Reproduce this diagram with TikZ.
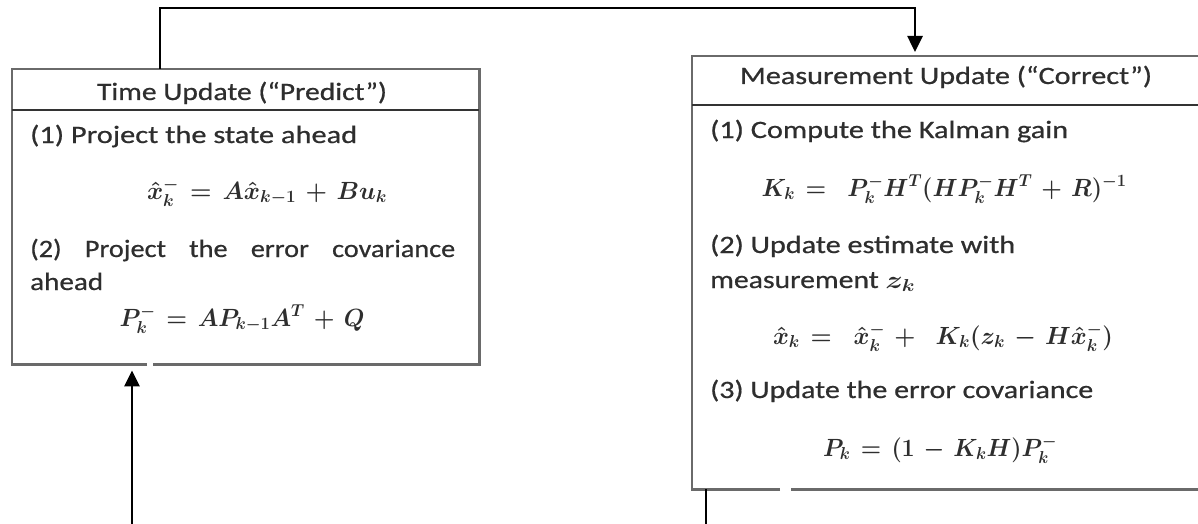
\documentclass[tikz,border=0pt]{standalone}
\usepackage{graphicx}
\usepackage{fontspec}
\setmainfont[FakeBold=0.6]{Carlito}
\usetikzlibrary{arrows.meta}
\definecolor{boxgray}{HTML}{6A6A6A}
\definecolor{sepgray}{HTML}{333333}
\definecolor{txtgray}{HTML}{2E2E2E}
\newcommand{\fitw}[2]{\sbox0{#2}\scalebox{\fpeval{#1pt/\wd0}}[1]{\usebox0}}
\newcommand{\sx}[1]{\scalebox{1.13}[1]{#1}}
\newcommand{\eqfont}{\fontsize{24}{28}\selectfont\boldmath\thickmuskip=7mu\medmuskip=6mu}
\begin{document}
\begin{tikzpicture}[x=1pt,y=-1pt,
  boxline/.style={draw=boxgray,line width=2.2pt},
  sepline/.style={draw=sepgray,line width=2.6pt},
  conn/.style={draw=black,line width=2.6pt},
  arrowline/.style={conn,-{Triangle[width=15pt,length=16pt]}},
  txt/.style={inner sep=0pt,text=txtgray,font=\fontsize{25}{29}\selectfont},
  eq/.style={inner sep=0pt,text=txtgray,font=\eqfont}
]
\useasboundingbox (0,0) rectangle (1198,524);
% boxes
\node[inner sep=0pt,anchor=north west,minimum width=467pt,minimum height=295pt] (tu) at (12,69) {};
\node[inner sep=0pt,anchor=north west,minimum width=520pt,minimum height=433pt] (mu) at (692,56) {};
\draw[boxline] ([xshift=135pt]tu.south west) -- (tu.south west) -- (tu.north west) -- (tu.north east) -- (tu.south east) -- ([xshift=141pt]tu.south west);
\draw[sepline] ([yshift=-41pt]tu.north west) -- ([yshift=-41pt]tu.north east);
\draw[boxline] ([xshift=88pt]mu.south west) -- (mu.south west) -- (mu.north west) -- (mu.north east);
\draw[boxline] ([xshift=99pt]mu.south west) -- (mu.south east);
\draw[sepline] ([yshift=-49pt]mu.north west) -- ([yshift=-49pt]mu.north east);
% left texts
\node[txt,anchor=base] (th) at (242,100) {\fitw{290}{Time Update (“Predict”)}};
\node[txt,anchor=base west] (t1) at (30,143) {\fitw{327}{(1) Project the state ahead}};
\node[eq,anchor=base] (te1) at (267,199) {\fitw{240}{$\hat{x}_k^- = A\hat{x}_{k-1} + Bu_k$}};
\node[txt,anchor=base west] (t2) at (30,257) {\makebox[425pt][s]{\sx{(2)}\hfill \sx{Project}\hfill \sx{the}\hfill \sx{error}\hfill \sx{covariance}}};
\node[txt,anchor=base west] (t2b) at (30,290) {\fitw{73}{ahead}};
\node[eq,anchor=base] (te2) at (242,326) {\fitw{245}{$P_k^- = AP_{k-1}A^T + Q$}};
% right texts
\node[txt,anchor=base] (mh) at (946,84) {\fitw{412}{Measurement Update (“Correct”)}};
\node[txt,anchor=base west] (m1) at (710,138) {\fitw{358}{(1) Compute the Kalman gain}};
\node[eq,anchor=base] (me1) at (944,196) {\fitw{365}{$K_k = \;P_k^-H^T(HP_k^-H^T + R)^{-1}$}};
\node[txt,anchor=base west] (m2) at (710,253) {\fitw{305}{(2) Update estimate with}};
\node[txt,anchor=base west] (m2b) at (710,288) {\fitw{205}{measurement {\boldmath$z_k$}}};
\node[eq,anchor=base] (me2) at (943,344) {\fitw{340}{$\hat{x}_k = \;\hat{x}_k^- + \;K_k(z_k - H\hat{x}_k^-)$}};
\node[txt,anchor=base west] (m3) at (710,398) {\fitw{383}{(3) Update the error covariance}};
\node[eq,anchor=base] (me3) at (940,456) {\fitw{234}{$P_k = (1 - K_kH)P_k^-$}};
% connectors
\coordinate (lb) at (132,524);
\draw[arrowline] (lb) -- ([yshift=-6pt]tu.south -| lb);
\draw[arrowline] ([xshift=148pt]tu.north west) -- ++(0,-61) -| ([xshift=223pt,yshift=4pt]mu.north west);
\draw[conn] ([xshift=14pt]mu.south west) -- ++(0,35);
\end{tikzpicture}
\end{document}
